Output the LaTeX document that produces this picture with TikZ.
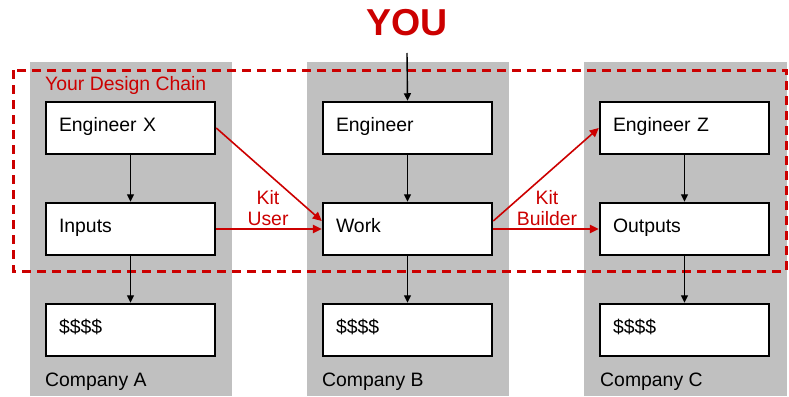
\documentclass[tikz,border=0pt]{standalone}
\usepackage{fontspec}
\setmainfont{Liberation Sans}
\usetikzlibrary{arrows.meta}
\definecolor{chainred}{RGB}{204,0,0}
\definecolor{coshade}{RGB}{192,192,192}

\begin{document}
\begin{tikzpicture}[x=1pt,y=-1pt,
  stagebox/.style={draw=black, line width=2.5pt, fill=white,
    minimum height=52pt, text width=143pt, inner xsep=13pt, inner ysep=0pt,
    text height=14pt, text depth=8pt,
    align=left, font=\fontsize{19.4}{21}\selectfont},
  company/.style={fill=coshade, draw=none},
  flow/.style={-{Triangle[length=7.5pt,width=7pt]}, line width=1.4pt, draw=black},
  kit/.style={-{Triangle[length=9pt,width=8.5pt]}, line width=1.6pt, draw=chainred},
  redtext/.style={text=chainred, inner sep=0pt, font=\fontsize{19.4}{21}\selectfont, align=center},
  cotext/.style={anchor=west, inner sep=0pt, font=\fontsize{19.4}{21}\selectfont},
]
\useasboundingbox (0,0) rectangle (789,396);

% company columns
\fill[company] (30,62) rectangle (232,396);
\fill[company] (307,62) rectangle (509,396);
\fill[company] (584,62) rectangle (787,396);

% design chain frame
\draw[chainred, line width=3pt, dash pattern=on 9pt off 6pt] (13,70) rectangle (786,271);
\node[redtext, anchor=west] (chain) at (45,85) {Your Design Chain};

% headline
\node[text=chainred, inner sep=0pt, font=\fontsize{37.5}{40}\selectfont\bfseries] (you) at (407,23) {YOU};
\coordinate (youfoot) at (407,53);

% company A
\node[stagebox] (engx) at (130.5,128) {Engineer X};
\node[stagebox] (inputs) at (130.5,229) {Inputs};
\node[stagebox] (moneya) at (130.5,330) {\$\$\$\$};
\node[cotext] (coa) at (45,382) {Company A};

% company B
\node[stagebox] (eng) at (407.5,128) {Engineer};
\node[stagebox] (work) at (407.5,229) {Work};
\node[stagebox] (moneyb) at (407.5,330) {\$\$\$\$};
\node[cotext] (cob) at (322,382) {Company B};

% company C
\node[stagebox] (engz) at (684.5,128) {Engineer Z};
\node[stagebox] (outputs) at (684.5,229) {Outputs};
\node[stagebox] (moneyc) at (684.5,330) {\$\$\$\$};
\node[cotext] (coc) at (600,382) {Company C};

% vertical flow inside each company
\draw[flow] (youfoot) -- (eng.north);
\draw[flow] (engx) -- (inputs);
\draw[flow] (inputs) -- (moneya);
\draw[flow] (eng) -- (work);
\draw[flow] (work) -- (moneyb);
\draw[flow] (engz) -- (outputs);
\draw[flow] (outputs) -- (moneyc);

% kit links between companies
\draw[kit] (engx.east) -- ([yshift=8pt]work.west);
\draw[kit] (inputs.east) -- (work.west);
\draw[kit] ([yshift=8pt]work.east) -- (engz.west);
\draw[kit] (work.east) -- (outputs.west);
\node[redtext] (kituser) at (268,208) {Kit\\User};
\node[redtext] (kitbuilder) at (547,208) {Kit\\Builder};
\end{tikzpicture}
\end{document}
